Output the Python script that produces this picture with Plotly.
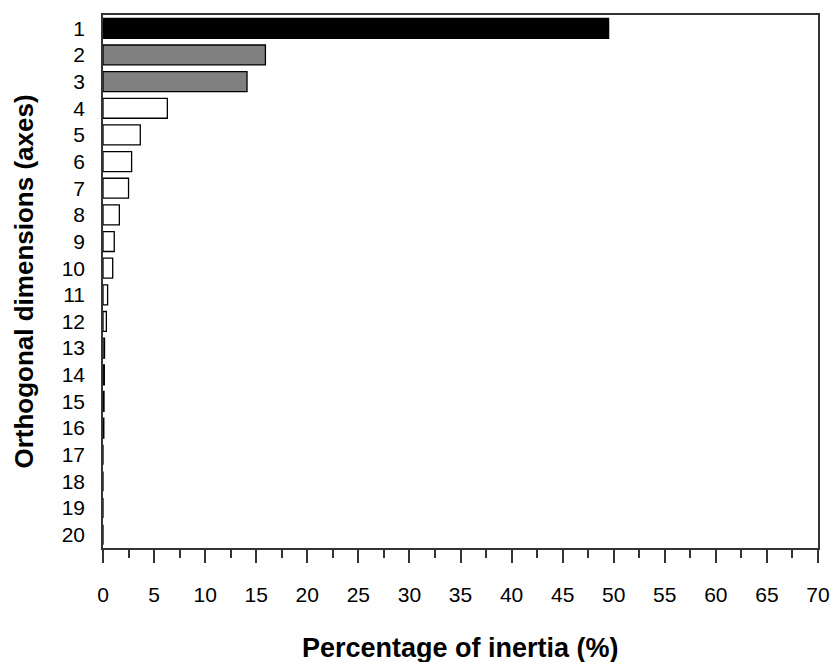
import plotly.graph_objects as go

dimensions = list(range(1, 21))
inertia = [49.5, 15.9, 14.1, 6.3, 3.65, 2.8, 2.5, 1.6, 1.1, 0.95,
           0.45, 0.33, 0.15, 0.13, 0.1, 0.08, 0.0, 0.0, 0.0, 0.0]
bar_colors = ["#000000", "#808080", "#808080"] + ["#ffffff"] * 17
x_ticks = list(range(0, 75, 5))

fig = go.Figure(go.Bar(
    x=inertia, y=dimensions, orientation="h",
    marker=dict(color=bar_colors, line=dict(color="#000000", width=1.3)),
    width=0.75,
))

font = "Liberation Sans, Arial, sans-serif"
fig.update_layout(
    width=831, height=662,
    margin=dict(l=103, r=13, t=15, b=114),
    paper_bgcolor="white", plot_bgcolor="white",
    showlegend=False,
    font=dict(family=font, size=21, color="#000000"),
    xaxis=dict(
        range=[0, 70], tickvals=x_ticks, ticktext=[str(v) for v in x_ticks],
        showgrid=False, zeroline=False, automargin=False,
        showline=True, linecolor="#333333", linewidth=1.5, mirror=True,
        ticks="outside", ticklen=13, tickwidth=1.5, tickcolor="#333333",
        minor=dict(dtick=2.5, tick0=0, ticks="outside", ticklen=8,
                   tickwidth=1.5, tickcolor="#333333", showgrid=False),
        ticklabelstandoff=14, ticklabeloverflow="allow",
    ),
    yaxis=dict(
        range=[20.5, 0.5], tickvals=dimensions, ticktext=[str(v) for v in dimensions],
        showgrid=False, zeroline=False, automargin=False,
        showline=True, linecolor="#333333", linewidth=1.5, mirror=True,
        ticks="", ticklabelstandoff=12,
        title=dict(text="<b>Orthogonal dimensions (axes)</b>", font=dict(size=26), standoff=21),
    ),
    annotations=[dict(
        text="<b>Percentage of inertia (%)</b>", xref="paper", yref="paper",
        x=0.5, y=-0.1876, xanchor="center", yanchor="middle",
        showarrow=False, font=dict(size=27),
    )],
)

fig.write_html("out.html", config={"displayModeBar": False},
               post_script="document.body.style.margin='0';document.body.style.overflow='hidden';")
